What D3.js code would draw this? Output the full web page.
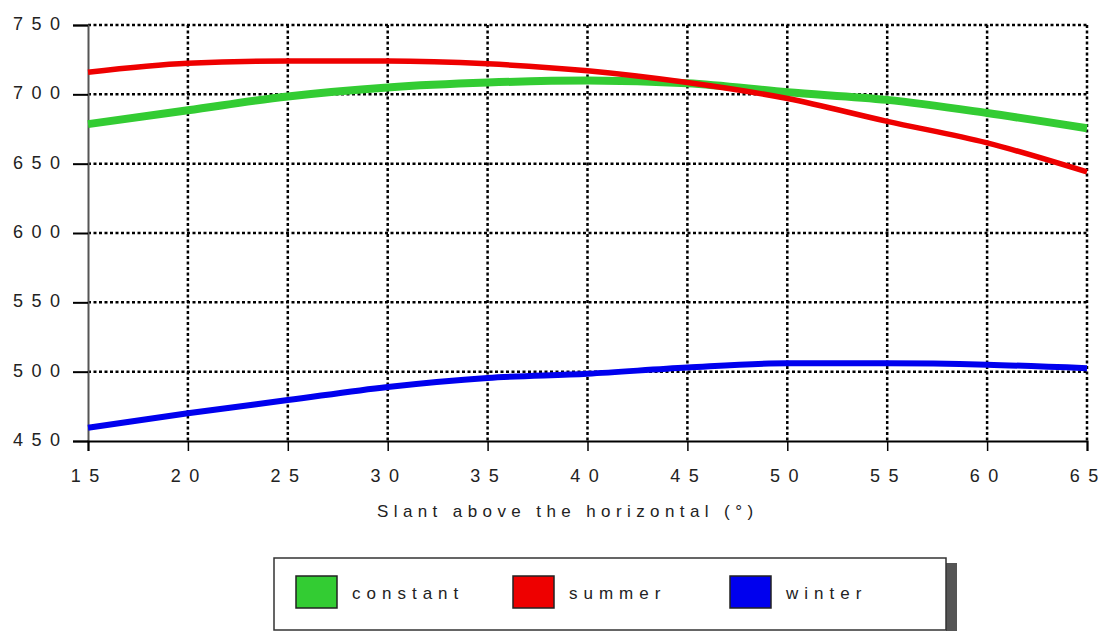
<!DOCTYPE html>
<html>
<head>
<meta charset="utf-8">
<script src="https://cdn.jsdelivr.net/npm/d3@7"></script>
<style>
  body { margin: 0; background: #fff; }
  text { font-family: "Liberation Sans", Arial, sans-serif; fill: #222; }
</style>
</head>
<body>
<div id="chart"></div>
<script>
// data
const slants = [15, 20, 25, 30, 35, 40, 45, 50, 55, 60, 65];
const constantVals = [678.5, 688.5, 698.5, 705, 708.5, 710, 708, 701.5, 696, 686.5, 675.5];
const summerVals   = [716, 722.5, 724, 724, 722, 717, 708.5, 697, 680.5, 665, 644];
const winterVals   = [459.5, 470, 479.5, 489, 495.5, 498.5, 503, 506, 506, 505, 502.5];
const yTicks = [450, 500, 550, 600, 650, 700, 750];
const seriesNames = ["constant", "summer", "winter"];
const seriesColors = ["#33cc33", "#ee0000", "#0000ee"];
const seriesWidths = [8, 5.5, 6];

const width = 1099, height = 631;
const svg = d3.select("#chart").append("svg")
    .attr("width", width).attr("height", height);

const x = d3.scaleLinear().domain([15, 65]).range([88, 1087]);
const y = d3.scaleLinear().domain([450, 750]).range([441, 25]);

// spaced-out text, no trailing spacing after the last letter
function spaced(sel, s, ls) {
    sel.attr("letter-spacing", ls).text(s.slice(0, -1))
        .append("tspan").attr("letter-spacing", 0).text(s.slice(-1));
}

// dotted grid
const grid = svg.append("g")
    .attr("stroke", "#000")
    .attr("stroke-width", 2.5)
    .attr("stroke-dasharray", "3,2.5");
grid.selectAll(".h").data(yTicks.filter(d => d > 450)).join("line")
    .attr("x1", x(15)).attr("x2", x(65))
    .attr("y1", d => y(d)).attr("y2", d => y(d));
grid.selectAll(".v").data(slants.filter(d => d > 15)).join("line")
    .attr("y1", y(750)).attr("y2", y(450))
    .attr("x1", d => x(d)).attr("x2", d => x(d));

// axes
const yAxis = svg.append("g").attr("transform", `translate(${x(15)},0)`)
    .call(d3.axisLeft(y).tickValues(yTicks).tickSize(15).tickFormat(""));
yAxis.select(".domain").attr("stroke", "#555").attr("stroke-width", 2);
yAxis.selectAll(".tick line").attr("stroke", "#000").attr("stroke-width", 2);

const xAxis = svg.append("g").attr("transform", `translate(0,${y(450)})`)
    .call(d3.axisBottom(x).tickValues(slants).tickSize(10).tickFormat(""));
xAxis.select(".domain").attr("stroke", "#000").attr("stroke-width", 2);
xAxis.selectAll(".tick line").attr("stroke", "#000").attr("stroke-width", 1.5);

const ls = 8.5;
svg.append("g").selectAll("text").data(yTicks).join("text")
    .attr("x", 60).attr("y", d => y(d) + 5)
    .attr("text-anchor", "end")
    .attr("font-size", 18)
    .each(function(d) { spaced(d3.select(this), String(d), ls); });
svg.append("g").selectAll("text").data(slants).join("text")
    .attr("x", d => x(d) - 3).attr("y", 482)
    .attr("text-anchor", "middle")
    .attr("font-size", 18)
    .each(function(d) { spaced(d3.select(this), String(d), ls); });
svg.append("text")
    .attr("x", 377).attr("y", 517)
    .attr("font-size", 17)
    .call(spaced, "Slant above the horizontal (°)", 5.4);

// lines
const series = [constantVals, summerVals, winterVals];
const line = d3.line()
    .x((d, i) => x(slants[i]))
    .y(d => y(d))
    .curve(d3.curveMonotoneX);
svg.append("g").selectAll("path").data(series).join("path")
    .attr("fill", "none")
    .attr("stroke", (d, i) => seriesColors[i])
    .attr("stroke-width", (d, i) => seriesWidths[i])
    .attr("d", line);

// legend
const lg = svg.append("g");
lg.append("rect").attr("x", 946).attr("y", 563).attr("width", 11).attr("height", 70).attr("fill", "#555");
lg.append("rect").attr("x", 274).attr("y", 558).attr("width", 672).attr("height", 72)
    .attr("fill", "#fff").attr("stroke", "#333").attr("stroke-width", 1.5);
const legX = [296, 513, 730];
const items = lg.selectAll(".item").data(seriesNames).join("g")
    .attr("transform", (d, i) => `translate(${legX[i]},576)`);
items.append("rect").attr("width", 41).attr("height", 32)
    .attr("fill", (d, i) => seriesColors[i]).attr("stroke", "#222").attr("stroke-width", 1.5);
items.append("text").attr("x", 56).attr("y", 23)
    .attr("font-size", 17)
    .each(function(d) { spaced(d3.select(this), d, 6); });
</script>
</body>
</html>
